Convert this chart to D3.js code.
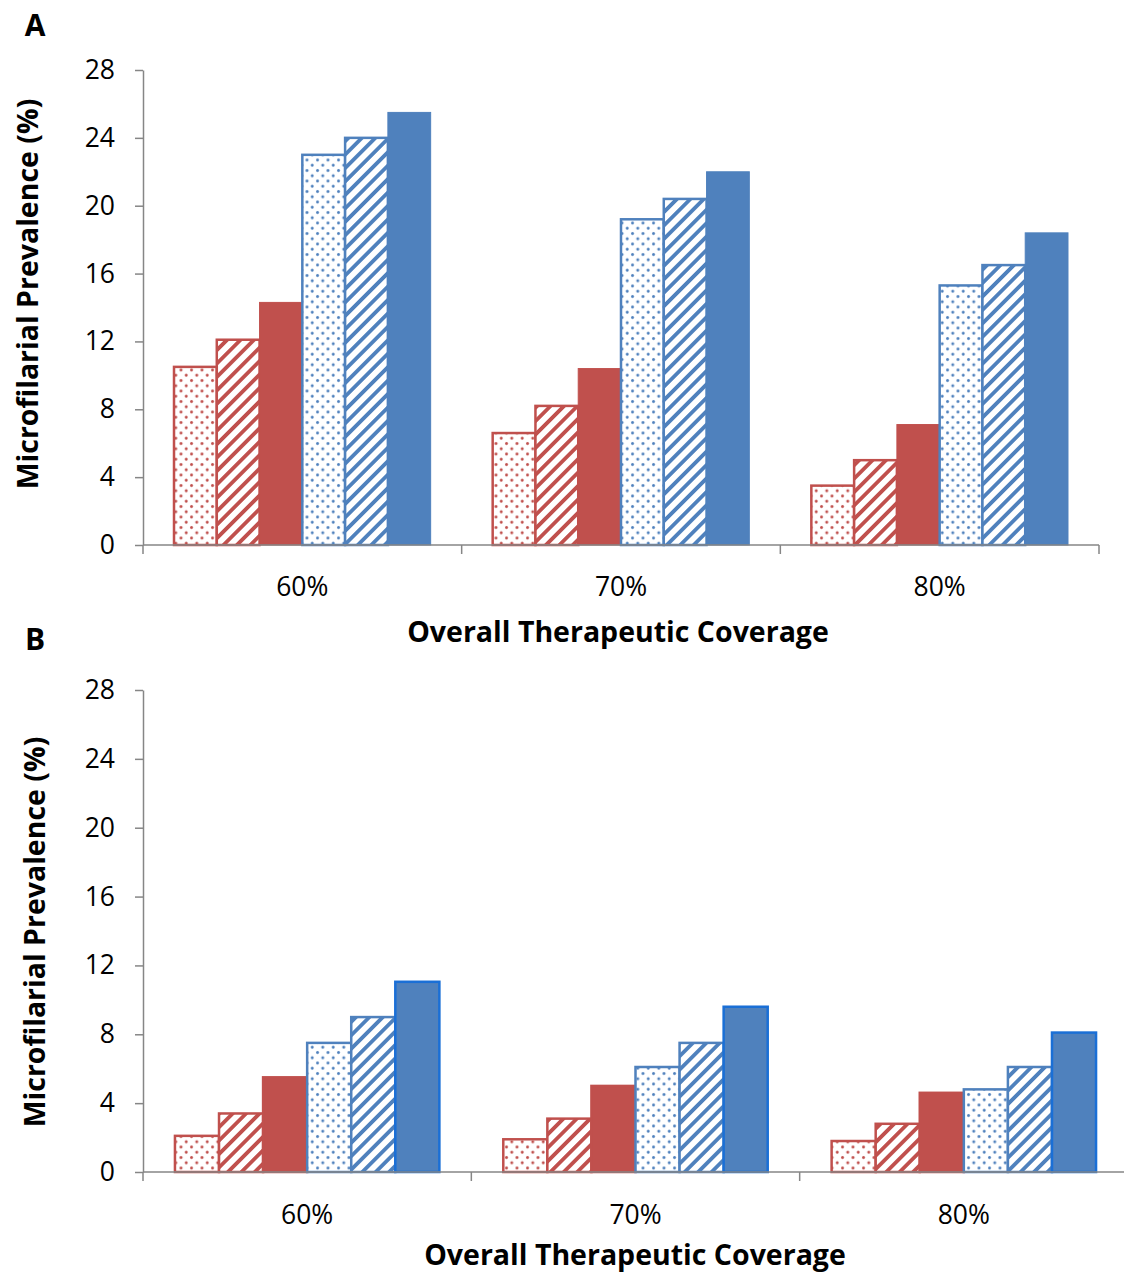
<!DOCTYPE html>
<html>
<head>
<meta charset="utf-8">
<script src="https://cdn.jsdelivr.net/npm/d3@7"></script>
<style>
  body { margin: 0; background: #fff; }
  text { font-family: "Open Sans", Lato, sans-serif; fill: #000; }
  .axis path, .axis line { stroke: #868686; stroke-width: 1.5px; }
  .axis text { font-size: 26.5px; }
  .title { font-weight: bold; font-size: 28.5px; }
  .panel { font-weight: bold; font-size: 30px; }
</style>
</head>
<body>
<div id="chart"></div>
<script>
// categories and tick labels
const categories = ['60%', '70%', '80%'];
const yTicks = [0, 4, 8, 12, 16, 20, 24, 28];

// six series per category: red dotted, red striped, red solid, blue dotted, blue striped, blue solid
const seriesKeys = ['redDot', 'redStripe', 'redSolid', 'blueDot', 'blueStripe', 'blueSolid'];

// panel A values, one row per category
const valuesA60 = [10.5, 12.1, 14.3, 23.0, 24.0, 25.5];
const valuesA70 = [6.6, 8.2, 10.4, 19.2, 20.4, 22.0];
const valuesA80 = [3.5, 5.0, 7.1, 15.3, 16.5, 18.4];

// panel B values
const valuesB60 = [2.1, 3.4, 5.5, 7.5, 9.0, 11.05];
const valuesB70 = [1.9, 3.1, 5.0, 6.1, 7.5, 9.6];
const valuesB80 = [1.8, 2.8, 4.6, 4.8, 6.1, 8.1];

const red = '#C0504D', blue = '#4F81BD';
const width = 1124, height = 1274;

const svg = d3.select('#chart')
    .append('svg')
    .attr('width', width)
    .attr('height', height);

const defs = svg.append('defs');

// dotted and striped fills
[['red', red], ['blue', blue]].forEach(([name, col]) => {
    let dots = defs.append('pattern')
        .attr('id', name + 'Dots')
        .attr('patternUnits', 'userSpaceOnUse')
        .attr('width', 10.5)
        .attr('height', 10.5);
    dots.append('rect').attr('width', 10.5).attr('height', 10.5).attr('fill', '#fff');
    dots.append('circle').attr('cx', 2.5).attr('cy', 2.5).attr('r', 1.5).attr('fill', col);
    dots.append('circle').attr('cx', 7.75).attr('cy', 7.75).attr('r', 1.5).attr('fill', col);

    let stripes = defs.append('pattern')
        .attr('id', name + 'Stripes')
        .attr('patternUnits', 'userSpaceOnUse')
        .attr('width', 9.5)
        .attr('height', 9.5)
        .attr('patternTransform', 'rotate(45)');
    stripes.append('rect').attr('width', 9.5).attr('height', 9.5).attr('fill', '#fff');
    stripes.append('rect').attr('width', 3.8).attr('height', 9.5).attr('fill', col);
});

const fills = {
    redDot: 'url(#redDots)', redStripe: 'url(#redStripes)', redSolid: red,
    blueDot: 'url(#blueDots)', blueStripe: 'url(#blueStripes)', blueSolid: blue
};
const strokes = {
    redDot: red, redStripe: red, redSolid: red,
    blueDot: blue, blueStripe: blue, blueSolid: blue
};

let drawPanel = (p) => {
    const rows = p.rows;
    const xScale = d3.scaleBand()
        .domain(categories)
        .range([p.left, p.right]);
    const sScale = d3.scaleBand()
        .domain(seriesKeys)
        .range([0, xScale.bandwidth()])
        .paddingOuter(0.725);
    const yScale = d3.scaleLinear()
        .domain([0, 28])
        .range([p.bottom, p.top]);

    const g = svg.append('g');

    // bars
    categories.forEach((c, ci) => {
        g.selectAll('.bar' + ci)
            .data(rows[ci].map((v, i) => ({ key: seriesKeys[i], value: v })))
            .enter()
            .append('rect')
            .attr('x', d => xScale(c) + sScale(d.key))
            .attr('y', d => yScale(d.value))
            .attr('width', sScale.bandwidth())
            .attr('height', d => yScale(0) - yScale(d.value))
            .attr('fill', d => fills[d.key])
            .attr('stroke', d => (p.brightEdge && d.key == 'blueSolid') ? '#1a6fd6' : strokes[d.key])
            .attr('stroke-width', d => d.key.endsWith('Solid') ? (p.brightEdge ? 2.5 : 1) : 2.5);
    });

    // y axis
    const yAxis = d3.axisLeft(yScale)
        .tickValues(yTicks)
        .tickSize(8)
        .tickSizeOuter(0)
        .tickPadding(20);
    const yAxisG = svg.append('g')
        .attr('class', 'axis')
        .attr('transform', 'translate(' + p.left + ',0)')
        .call(yAxis);
    yAxisG.selectAll('text').attr('fill', '#000');

    // x axis: baseline, divider ticks, centred labels
    const xAxisG = svg.append('g').attr('class', 'axis');
    xAxisG.append('line')
        .attr('x1', p.left).attr('x2', p.right)
        .attr('y1', p.bottom).attr('y2', p.bottom);
    const dividers = categories.map(c => xScale(c)).concat([xScale.range()[1]]);
    xAxisG.selectAll('.div')
        .data(dividers)
        .enter()
        .append('line')
        .attr('x1', d => d).attr('x2', d => d)
        .attr('y1', p.bottom).attr('y2', p.bottom + 9);
    xAxisG.selectAll('.lab')
        .data(categories)
        .enter()
        .append('text')
        .attr('x', d => xScale(d) + xScale.bandwidth() / 2)
        .attr('y', p.labelY)
        .attr('text-anchor', 'middle')
        .text(d => d);

    // titles
    svg.append('text')
        .attr('class', 'title')
        .attr('x', p.xTitleX)
        .attr('y', p.xTitleY)
        .attr('text-anchor', 'middle')
        .text('Overall Therapeutic Coverage');
    svg.append('text')
        .attr('class', 'title')
        .attr('transform', 'translate(' + p.yTitleX + ',' + p.yTitleY + ') rotate(-90)')
        .attr('text-anchor', 'middle')
        .text('Microfilarial Prevalence (%)');
    svg.append('text')
        .attr('class', 'panel')
        .attr('x', p.letterX)
        .attr('y', p.letterY)
        .attr('text-anchor', 'middle')
        .text(p.letter);
};

drawPanel({
    letter: 'A', letterX: 35, letterY: 36,
    rows: [valuesA60, valuesA70, valuesA80],
    left: 143, right: 1099, top: 70, bottom: 545,
    labelY: 596, xTitleX: 618, xTitleY: 642,
    yTitleX: 38, yTitleY: 294, brightEdge: false
});

drawPanel({
    letter: 'B', letterX: 35, letterY: 650,
    rows: [valuesB60, valuesB70, valuesB80],
    left: 143, right: 1128, top: 690, bottom: 1172,
    labelY: 1224, xTitleX: 635, xTitleY: 1265,
    yTitleX: 45, yTitleY: 932, brightEdge: true
});
</script>
</body>
</html>
